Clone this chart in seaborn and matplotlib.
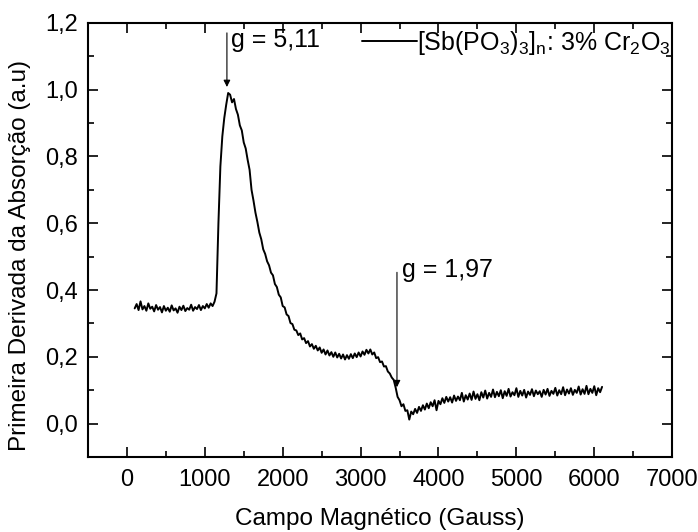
import numpy as np
import pandas as pd
import matplotlib
matplotlib.use("Agg")
import matplotlib.pyplot as plt
import matplotlib.ticker as mtick
import seaborn as sns

# EPR spectrum, field sweep 100..6100 G in 25 G steps
campo = np.arange(100, 6101, 25)
derivada = [
    0.345, 0.358, 0.340, 0.366, 0.342, 0.352, 0.338, 0.360,   # 100
    0.344, 0.350, 0.336, 0.355, 0.341, 0.349, 0.333, 0.352,   # 300
    0.338, 0.347, 0.335, 0.354, 0.339, 0.345, 0.332, 0.350,   # 500
    0.340, 0.353, 0.337, 0.346, 0.341, 0.356, 0.338, 0.349,   # 700
    0.343, 0.355, 0.340, 0.352, 0.345, 0.358, 0.347, 0.360,   # 900
    0.352, 0.365, 0.390, 0.600, 0.770, 0.860, 0.915, 0.955,   # 1100
    0.990, 0.985, 0.962, 0.972, 0.942, 0.925, 0.893, 0.878,   # 1300
    0.842, 0.824, 0.790, 0.760, 0.700, 0.668, 0.632, 0.604,   # 1500
    0.572, 0.552, 0.522, 0.508, 0.486, 0.474, 0.452, 0.444,   # 1700
    0.418, 0.409, 0.386, 0.378, 0.352, 0.348, 0.327, 0.322,   # 1900
    0.301, 0.298, 0.281, 0.279, 0.265, 0.270, 0.252, 0.256,   # 2100
    0.241, 0.247, 0.231, 0.238, 0.224, 0.233, 0.219, 0.228,   # 2300
    0.212, 0.222, 0.207, 0.219, 0.204, 0.214, 0.200, 0.213,   # 2500
    0.198, 0.209, 0.195, 0.207, 0.192, 0.205, 0.194, 0.208,   # 2700
    0.196, 0.210, 0.199, 0.213, 0.201, 0.216, 0.206, 0.221,   # 2900
    0.210, 0.222, 0.207, 0.213, 0.196, 0.199, 0.184, 0.186,   # 3100
    0.171, 0.172, 0.156, 0.150, 0.138, 0.131, 0.108, 0.080,   # 3300
    0.070, 0.052, 0.058, 0.038, 0.040, 0.012, 0.036, 0.028,   # 3500
    0.044, 0.032, 0.050, 0.038, 0.055, 0.042, 0.060, 0.046,   # 3700
    0.064, 0.052, 0.070, 0.040, 0.068, 0.058, 0.076, 0.062,   # 3900
    0.080, 0.066, 0.079, 0.063, 0.084, 0.068, 0.081, 0.070,   # 4100
    0.092, 0.066, 0.085, 0.072, 0.090, 0.071, 0.096, 0.074,   # 4300
    0.088, 0.070, 0.094, 0.078, 0.099, 0.075, 0.092, 0.080,   # 4500
    0.102, 0.079, 0.095, 0.082, 0.100, 0.076, 0.097, 0.083,   # 4700
    0.104, 0.081, 0.094, 0.085, 0.106, 0.080, 0.098, 0.084,   # 4900
    0.101, 0.078, 0.096, 0.086, 0.103, 0.082, 0.099, 0.088,   # 5100
    0.097, 0.080, 0.101, 0.087, 0.104, 0.083, 0.098, 0.089,   # 5300
    0.107, 0.084, 0.100, 0.088, 0.109, 0.085, 0.102, 0.090,   # 5500
    0.106, 0.086, 0.101, 0.092, 0.111, 0.087, 0.103, 0.089,   # 5700
    0.113, 0.088, 0.104, 0.092, 0.112, 0.085, 0.106, 0.094,   # 5900
    0.110,                                                    # 6100
]

# g-factor markers: (label, field, arrow top, arrow tip)
g_labels = ["g = 5,11", "g = 1,97"]
g_field = [1284, 3467]
g_top = [1.17, 0.453]
g_tip = [1.008, 0.109]
g_text_xy = [(1340, 1.148), (3530, 0.459)]

legenda = r"[Sb(PO$_\mathregular{3}$)$_\mathregular{3}$]$_\mathregular{n}$: 3% Cr$_\mathregular{2}$O$_\mathregular{3}$"

sns.set_style("ticks")
plt.rcParams['font.family'] = ['Liberation Sans', 'DejaVu Sans']
plt.rcParams['mathtext.fontset'] = 'custom'
plt.rcParams['mathtext.rm'] = 'Liberation Sans'
plt.rcParams['mathtext.it'] = 'Liberation Sans:italic'
for k in ['text.color', 'axes.labelcolor', 'xtick.color', 'ytick.color', 'axes.edgecolor']:
    plt.rcParams[k] = 'black'

df = pd.DataFrame({"campo": campo, "derivada": derivada})

fig = plt.figure(figsize=(6.98, 5.32), dpi=100)
ax = fig.add_axes([0.126, 0.141, 0.837, 0.816])

sns.lineplot(data=df, x="campo", y="derivada", color="black", lw=1.4,
             estimator=None, sort=False, label=legenda, ax=ax)

for lab, gx, top, tip, (tx, ty) in zip(g_labels, g_field, g_top, g_tip, g_text_xy):
    ax.annotate("", xy=(gx, tip), xytext=(gx, top),
                arrowprops=dict(arrowstyle="-|>", color="black", lw=0.8,
                                mutation_scale=10, shrinkA=0, shrinkB=0))
    ax.text(tx, ty, lab, fontsize=18, va="center", ha="left")

ax.set_xlim(-500, 7000)
ax.set_ylim(-0.1, 1.2)
ax.xaxis.set_major_locator(mtick.MultipleLocator(1000))
ax.xaxis.set_minor_locator(mtick.MultipleLocator(500))
ax.yaxis.set_major_locator(mtick.MultipleLocator(0.2))
ax.yaxis.set_minor_locator(mtick.MultipleLocator(0.1))
ax.yaxis.set_major_formatter(mtick.FuncFormatter(lambda v, p: f"{v:.1f}".replace(".", ",")))

ax.tick_params(which="both", direction="in", top=True, right=True, width=1.2, labelsize=17)
ax.tick_params(which="major", length=7)
ax.tick_params(axis="x", which="major", pad=9)
ax.tick_params(axis="y", which="major", pad=7)
ax.tick_params(which="minor", length=4)
for s in ax.spines.values():
    s.set_linewidth(1.5)

ax.set_xlabel("Campo Magnético (Gauss)", fontsize=17.5, labelpad=12)
ax.set_ylabel("Primeira Derivada da Absorção (a.u)", fontsize=17.5)
ax.yaxis.set_label_coords(-0.097, 0.465)

ax.legend(loc="center left", bbox_to_anchor=(0.469, 0.954), frameon=False,
          borderaxespad=0, borderpad=0, handlelength=2.2, handletextpad=0.0,
          fontsize=18)

fig.savefig("out.png", dpi=100)
